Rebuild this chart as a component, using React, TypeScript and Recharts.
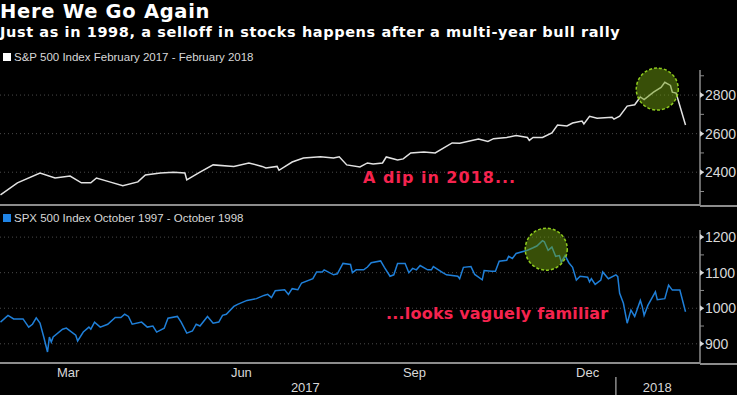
import React from 'react';
import {
  LineChart,
  Line,
  XAxis,
  YAxis,
  CartesianGrid,
  ReferenceDot,
} from 'recharts';

// day offsets from 1 Jan 2017 (1998 series is overlaid on the same calendar)
const DAYS_2017 = [
  38, 47, 59, 67, 75, 81, 86, 89, 96, 103, 111, 115, 123, 130, 136, 137, 144, 151, 162, 170,
  177, 179, 185, 186, 193, 199, 208, 215, 218, 222, 229, 233, 236, 241, 243, 249, 252, 256, 263, 269,
  278, 282, 292, 297, 300, 307, 312, 318, 319, 321, 326, 331, 334, 339, 342, 347, 348, 351, 355, 363,
  364, 367, 371, 375, 378, 380, 385, 389, 391, 394, 395, 397, 402,
];
const SPX_2017 = [
  2283, 2345, 2396, 2370, 2380, 2345, 2345, 2370, 2350, 2330, 2350, 2386, 2396, 2400, 2396, 2360, 2400, 2438, 2430, 2448,
  2430, 2422, 2430, 2410, 2453, 2474, 2480, 2474, 2480, 2438, 2427, 2448, 2443, 2448, 2479, 2464, 2469, 2500, 2505, 2500,
  2552, 2550, 2572, 2560, 2574, 2580, 2590, 2580, 2565, 2580, 2580, 2604, 2645, 2640, 2655, 2665, 2650, 2690, 2680, 2685,
  2675, 2690, 2743, 2750, 2790, 2777, 2815, 2840, 2866, 2850, 2815, 2810, 2645,
];

const DAYS_1998 = [
  38, 42, 45, 50, 53, 55, 57, 59, 61, 63, 64, 65, 66, 71, 73, 78, 79, 82, 85, 86,
  88, 91, 95, 99, 102, 104, 106, 108, 113, 116, 119, 121, 125, 127, 132, 134, 137, 140, 142, 144,
  148, 151, 154, 156, 158, 162, 164, 169, 174, 178, 180, 182, 184, 189, 191, 193, 196, 198, 204, 206,
  209, 210, 215, 217, 220, 224, 225, 227, 231, 233, 235, 240, 242, 245, 247, 249, 253, 255, 257, 259,
  261, 265, 267, 268, 273, 275, 281, 282, 284, 288, 290, 294, 295, 299, 301, 303, 307, 308, 310, 312,
  318, 321, 323, 326, 327, 329, 331, 333, 335, 336, 338, 340, 342, 344, 346, 350, 351, 352, 354, 357,
  358, 361, 365, 366, 367, 369, 371, 373, 375, 378, 379, 380, 382, 386, 387, 391, 393, 395, 399, 402,
];
const SPX_1998 = [
  961, 980, 970, 970, 947, 955, 973, 958, 919, 877, 919, 905, 919, 941, 944, 924, 908, 933, 947, 941,
  961, 947, 955, 974, 974, 983, 977, 955, 961, 947, 950, 933, 944, 972, 977, 961, 930, 936, 955, 950,
  977, 958, 961, 980, 983, 1005, 1011, 1022, 1027, 1036, 1039, 1030, 1049, 1052, 1039, 1055, 1052, 1071, 1083, 1102,
  1102, 1108, 1094, 1097, 1126, 1123, 1100, 1108, 1108, 1116, 1128, 1133, 1115, 1090, 1094, 1126, 1126, 1100, 1112, 1108,
  1120, 1108, 1108, 1117, 1100, 1094, 1090, 1083, 1115, 1117, 1095, 1080, 1106, 1104, 1104, 1132, 1135, 1146, 1140, 1154,
  1163, 1170, 1175, 1190, 1187, 1163, 1172, 1146, 1148, 1130, 1148, 1128, 1115, 1079, 1090, 1087, 1074, 1083, 1067, 1079,
  1102, 1083, 1094, 1089, 1042, 1014, 958, 995, 977, 1022, 1005, 980, 1008, 1046, 1024, 1027, 1065, 1051, 1051, 990,
];

const MONTH_STARTS = [59, 90, 120, 151, 181, 212, 243, 273, 304, 334, 365, 396];
const QUARTER_STARTS = [90, 181, 273, 365];
const MONTH_LABEL_DAYS = [74, 166, 258, 350];
const MONTH_LABELS = ['Mar', 'Jun', 'Sep', 'Dec'];
const YEAR_DAYS = [200, 365, 387];
const YEAR_LABELS = ['2017', '', '2018'];

const TOP_TICKS = [2300, 2400, 2500, 2600, 2700, 2800, 2900];
const TOP_LABELS = [2400, 2600, 2800];
const BOTTOM_TICKS = [900, 950, 1000, 1050, 1100, 1150, 1200];
const BOTTOM_LABELS = [900, 1000, 1100, 1200];

const X_DOMAIN = [37.75, 409.7];
const AXIS = '#8c8c8c';
const GRID = '#4a4a4a';
const TEXT = '#d8d8d8';
const RED = '#f5234e';
const FONT = "'Liberation Sans', Arial, sans-serif";
const BOLD = "'DejaVu Sans', Verdana, sans-serif";

const topData = DAYS_2017.map((t, i) => ({ t, v: SPX_2017[i] }));
const bottomData = DAYS_1998.map((t, i) => ({ t, v: SPX_1998[i] }));

const YTick = ({ x, y, payload, labels }: any) => {
  const show = labels.includes(payload.value);
  if (!show) return null;
  return (
    <g>
      <path d={`M${x - 5},${y - 3} L${x - 1},${y} L${x - 5},${y + 3} Z`} fill={TEXT} />
      <text x={x} y={y} dy="0.35em" fill={TEXT} fontSize={14} fontFamily={FONT} textAnchor="start">
        {payload.value}
      </text>
    </g>
  );
};

const YearTick = ({ x, y, payload }: any) => {
  const i = YEAR_DAYS.indexOf(payload.value);
  if (!YEAR_LABELS[i]) {
    return <line x1={x} x2={x} y1={y - 6} y2={y + 16} stroke={AXIS} strokeWidth={1.5} />;
  }
  return (
    <text x={x} y={y} dy="0.71em" fill={TEXT} fontSize={13} fontFamily={FONT} textAnchor="middle">
      {YEAR_LABELS[i]}
    </text>
  );
};

const Legend = ({ top, color, label }: { top: number; color: string; label: string }) => (
  <div style={{ position: 'absolute', left: 3, top, display: 'flex', alignItems: 'center', fontFamily: FONT, fontSize: 11.5, color: TEXT }}>
    <span style={{ width: 8, height: 8, background: color, marginRight: 3, display: 'inline-block' }} />
    {label}
  </div>
);

const circleProps = {
  r: 21,
  fill: '#6f9e10',
  fillOpacity: 0.5,
  stroke: '#8fcc1e',
  strokeWidth: 1.5,
  strokeDasharray: '3 2',
  ifOverflow: 'visible' as const,
};

const rule = (top: number) => (
  <div style={{ position: 'absolute', left: 700, top: top - 1, width: 37, height: 2, background: AXIS }} />
);

export default function App() {
  return (
    <div style={{ position: 'relative', width: 737, height: 395, background: '#000', overflow: 'hidden' }}>
      <style>{`body{margin:0;background:#000}`}</style>
      <div style={{ position: 'absolute', left: 0, top: 0, fontFamily: BOLD, fontWeight: 'bold', fontSize: 19.5, letterSpacing: 0.7, color: '#fff' }}>
        Here We Go Again
      </div>
      <div style={{ position: 'absolute', left: 0, top: 24, fontFamily: BOLD, fontWeight: 'bold', fontSize: 14.5, letterSpacing: 0.6, color: '#fff' }}>
        Just as in 1998, a selloff in stocks happens after a multi-year bull rally
      </div>
      <Legend top={51} color="#ffffff" label="S&P 500 Index February 2017 - February 2018" />
      <Legend top={212} color="#1f84e6" label="SPX 500 Index October 1997 - October 1998" />

      <div style={{ position: 'absolute', left: 0, top: 0 }}>
        <LineChart width={737} height={207} data={topData} margin={{ top: 70, right: 0, bottom: 0, left: 0 }}>
          <CartesianGrid stroke={GRID} strokeDasharray="1 3" horizontalValues={TOP_LABELS} verticalValues={QUARTER_STARTS} />
          <XAxis
            dataKey="t"
            type="number"
            domain={X_DOMAIN}
            allowDataOverflow
            ticks={QUARTER_STARTS}
            tick={false}
            tickLine={false}
            height={2}
            axisLine={{ stroke: AXIS, strokeWidth: 2 }}
          />
          <YAxis
            orientation="right"
            width={37}
            domain={[2230, 2930]}
            allowDataOverflow
            ticks={TOP_TICKS}
            interval={0}
            tickSize={4}
            tickMargin={1}
            tickLine={{ stroke: AXIS }}
            axisLine={{ stroke: AXIS, strokeWidth: 1.5 }}
            tick={<YTick labels={TOP_LABELS} />}
          />
          <Line dataKey="v" stroke="#e2e2e2" strokeWidth={1.5} dot={false} isAnimationActive={false} />
          <ReferenceDot x={387} y={2831} {...circleProps} />
        </LineChart>
      </div>

      <div style={{ position: 'absolute', left: 0, top: 207 }}>
        <LineChart width={737} height={188} data={bottomData} margin={{ top: 23, right: 0, bottom: 0, left: 0 }}>
          <CartesianGrid stroke={GRID} strokeDasharray="1 3" horizontalValues={BOTTOM_LABELS} verticalValues={QUARTER_STARTS} />
          <XAxis
            dataKey="t"
            type="number"
            domain={X_DOMAIN}
            allowDataOverflow
            ticks={MONTH_STARTS}
            interval={0}
            tick={false}
            tickSize={3}
            tickLine={{ stroke: AXIS }}
            height={4}
            axisLine={{ stroke: AXIS, strokeWidth: 2 }}
          />
          <XAxis
            xAxisId="m"
            dataKey="t"
            type="number"
            domain={X_DOMAIN}
            allowDataOverflow
            ticks={MONTH_LABEL_DAYS}
            interval={0}
            tickFormatter={(v: number) => MONTH_LABELS[MONTH_LABEL_DAYS.indexOf(v)]}
            tick={{ fill: TEXT, fontSize: 13, fontFamily: FONT }}
            tickSize={0}
            tickMargin={1}
            tickLine={false}
            axisLine={false}
            height={15}
          />
          <XAxis
            xAxisId="y"
            dataKey="t"
            type="number"
            domain={X_DOMAIN}
            allowDataOverflow
            ticks={YEAR_DAYS}
            interval={0}
            tick={<YearTick />}
            tickSize={0}
            tickMargin={1}
            tickLine={false}
            axisLine={false}
            height={13}
          />
          <YAxis
            orientation="right"
            width={37}
            domain={[846, 1220]}
            allowDataOverflow
            ticks={BOTTOM_TICKS}
            interval={0}
            tickSize={4}
            tickMargin={1}
            tickLine={{ stroke: AXIS }}
            axisLine={{ stroke: AXIS, strokeWidth: 1.5 }}
            tick={<YTick labels={BOTTOM_LABELS} />}
          />
          <Line dataKey="v" stroke="#1f7fd8" strokeWidth={1.5} dot={false} isAnimationActive={false} />
          <ReferenceDot x={328} y={1166} {...circleProps} />
        </LineChart>
      </div>
      {rule(206)}
      {rule(364)}

      <div style={{ position: 'absolute', left: 363, top: 168, fontFamily: BOLD, fontWeight: 'bold', fontSize: 16, color: RED, letterSpacing: 1 }}>
        A dip in 2018...
      </div>
      <div style={{ position: 'absolute', left: 386, top: 304, fontFamily: BOLD, fontWeight: 'bold', fontSize: 16, color: RED, letterSpacing: 0.2 }}>
        ...looks vaguely familiar
      </div>
    </div>
  );
}
